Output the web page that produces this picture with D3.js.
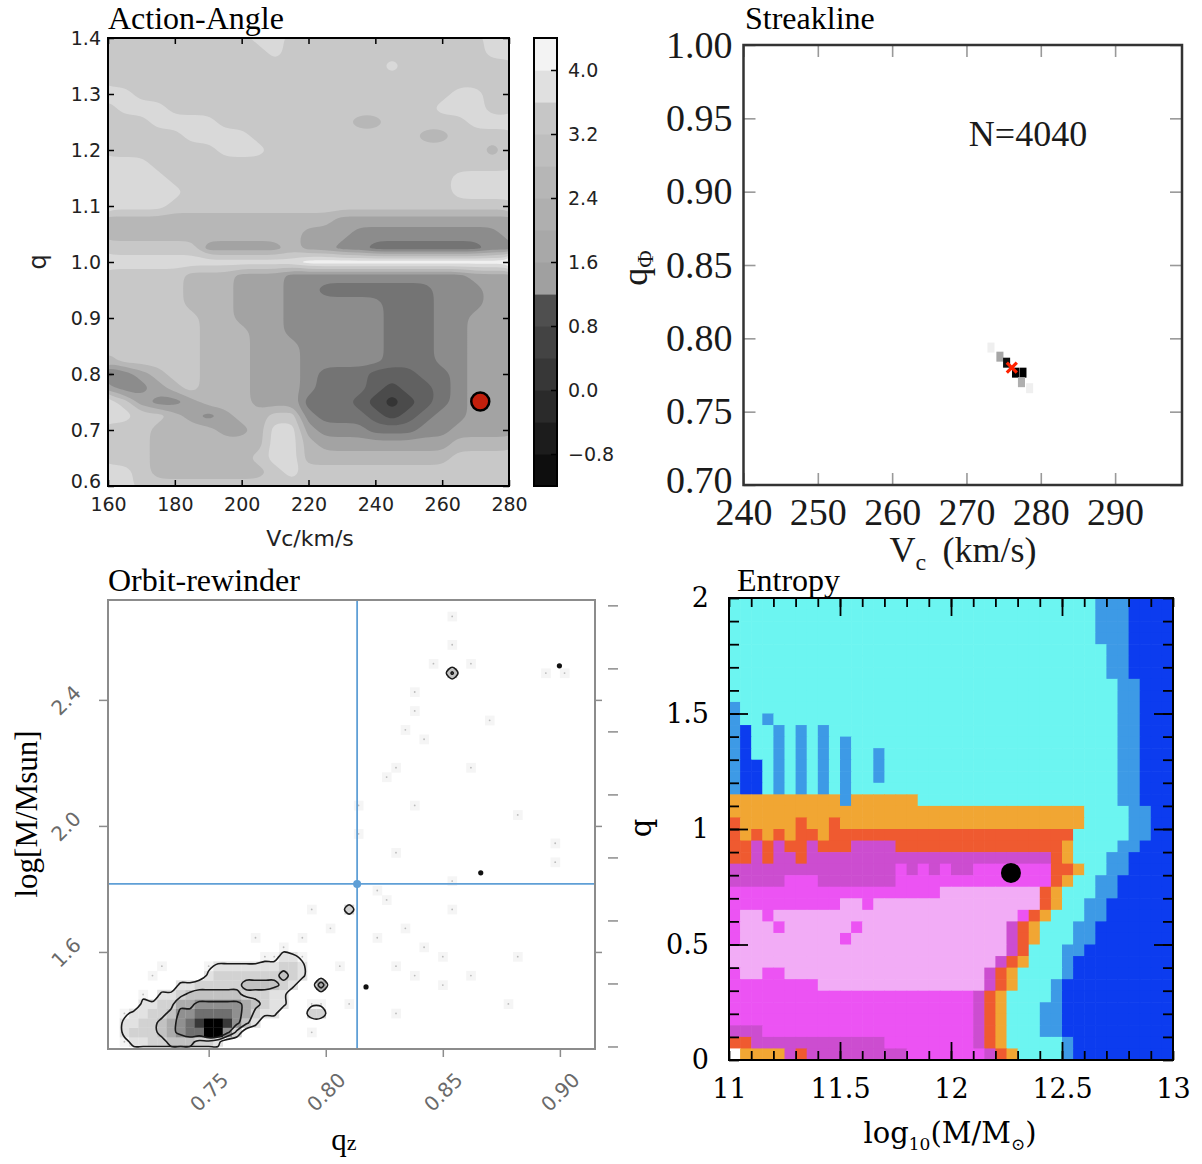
<!DOCTYPE html>
<html><head><meta charset="utf-8">
<script src="https://cdn.jsdelivr.net/npm/d3@7/dist/d3.min.js"></script>
<style>html,body{margin:0;padding:0;background:#fff;} svg{display:block;}</style>
</head><body>
<svg id="fig" width="1202" height="1164" xmlns="http://www.w3.org/2000/svg"></svg>
<script>
// ======================= DATA =======================
// ---- Panel 1: Action-Angle (grey contour map, level index per grid node) ----
const aaVcGrid = [160,165,170,175,180,185,190,195,200,205,210,215,220,225,230,235,240,245,250,255,260,265,270,275,280];
const aaQGrid = [1.400,1.375,1.350,1.325,1.300,1.275,1.250,1.225,1.200,1.175,1.150,1.125,1.100,1.075,1.050,1.025,1.000,0.975,0.950,0.925,0.900,0.875,0.850,0.825,0.800,0.775,0.750,0.725,0.700,0.675,0.650,0.625,0.600];
const aaLevelRows = [
"2222222221122222222222211",
"2222222222122222222222211",
"2222222222222222212222222",
"2222222222222222222222222",
"1122222222222222222221122",
"2111222222222222222211122",
"2221111222222223322222111",
"2222211112222222222332222",
"2222222111222222222222232",
"1112222222222222222222222",
"1111222222222222222221111",
"1111122222222222222221111",
"1111222222222222222222222",
"3333333333333344444444444",
"3333333333334445555555554",
"2222224444434455666666655",
"1111111111110000000000000",
"2222233344455555555555444",
"2222233344455666666655544",
"2222233344455555566655544",
"2222223344455555566655444",
"2222223334455555566655444",
"2222223334445555566655444",
"3222223334445555566655444",
"6543223334445666777665444",
"4554323334445666787765444",
"1245543334446667898765444",
"1122345433225666787655444",
"2223333443114555666554444",
"2223333333113444444443333",
"2223333332113333333332222",
"1123333333212222222222222",
"1122222222222222222222222"
];
const aaLevelGrays = ["#f0f0f0","#d9d9d9","#c8c8c8","#b7b7b7","#a3a3a3","#8c8c8c","#747474","#616161","#4b4b4b","#353535"];
const aaXTicks = [160,180,200,220,240,260,280];
const aaYTicks = [0.6,0.7,0.8,0.9,1.0,1.1,1.2,1.3,1.4];
const aaBest = [271.4, 0.751];
const cbEdges = [-1.2,-0.8,-0.4,0.0,0.4,0.8,1.2,1.6,2.0,2.4,2.8,3.2,3.6,4.0,4.4];
const cbGrays = ["#0e0e0e","#1c1c1c","#2a2a2a","#373737","#434343","#4f4f4f","#a0a0a0","#a8a8a8","#afafaf","#b6b6b6","#bebebe","#c6c6c6","#e0e0e0","#f3f3f3"];
const cbTicks = [-0.8,0.0,0.8,1.6,2.4,3.2,4.0];

// ---- Panel 2: Streakline ----
const slXTicks = [240,250,260,270,280,290];
const slYTicks = [0.70,0.75,0.80,0.85,0.90,0.95,1.00];
const slCellVc = [273.3,274.5,275.4,276.6,277.6,277.4,278.5];
const slCellQ = [0.7937,0.7875,0.7834,0.7766,0.7766,0.7701,0.7660];
const slCellDensity = [0.12,0.45,0.95,1.0,1.0,0.42,0.12];
const slBest = [276.1, 0.780];
const slNote = "N=4040";

// ---- Panel 3: Orbit-rewinder ----
const orQzTicks = [0.75,0.80,0.85,0.90];
const orLogMTicks = [1.6,2.0,2.4];
const orOuterTicks = [1.3,1.5,1.7,1.9,2.1,2.3,2.5,2.7];
// dense cluster, rows from logM 1.60-1.63 (top) down to 1.30-1.33, columns from qz 0.712 step 0.004
const orClusterRows = [
"000000000000000000000000",
"000000000000000112210000",
"000000000122222223320000",
"000000000233333334320000",
"000000223333344443200500",
"000022344444433322000000",
"002233556666654322001100",
"122334667777653220003300",
"223345678998642000000000",
"233345677996300000000000",
"122334443320000000000000"
];
const orScatterQz   = [0.8538,0.8534,0.8453,0.8632,0.8947,0.9019,0.8372,0.8381,0.8330,0.8423,0.8709,0.8317,0.8257,0.8623,0.8160,0.8372,0.8832,0.8968,0.8977,0.8147,0.8317,0.8551,0.8206,0.8274,0.8330,0.8232,0.8432,0.8509,0.8296,0.8368,0.8500,0.8615,0.8104,0.8040,0.7891,0.7806,0.7691,0.7296,0.7211,0.8296,0.7934,0.8019,0.7955,0.8530,0.8828,0.8764,0.7266,0.7219,0.7372,0.8543,0.8096];
const orScatterLogM = [2.654,2.565,2.508,2.514,2.495,2.470,2.419,2.368,2.314,2.273,2.337,2.194,2.162,2.197,2.067,2.051,2.025,1.936,1.879,1.987,1.908,1.829,1.781,1.756,1.676,1.644,1.622,1.581,1.568,1.527,1.495,1.527,1.448,1.559,1.638,1.606,1.654,1.549,1.448,1.416,1.352,1.670,1.749,1.749,1.575,1.448,1.533,1.454,1.479,2.479,1.740];
const orScatterVal  = [1,1,1,1,1,1,1,1,1,1,1,1,1,1,1,1,1,1,1,1,1,1,1,1,1,1,1,1,1,1,1,1,1,1,1,1,1,1,1,1,1,1,1,1,1,1,1,1,1,4,3];
const orSpecksQz   = [0.8998,0.8662,0.8172];
const orSpecksLogM = [2.508,1.851,1.489];
const orTruth = [0.8134, 1.816];

// ---- Panel 4: Entropy (run-length rows, top q=2 -> bottom q=0, 40 cells of 0.05) ----
const enXTicks = [11,11.5,12,12.5,13];
const enYTicks = [0,0.5,1,1.5,2];
const enRowsRLE = [
"C33 B3 D4","C33 B3 D4","C33 B3 D4","C33 B3 D4",
"C34 B2 D4","C34 B2 D4","C34 B2 D4",
"C35 B2 D3","C35 B2 D3",
"B1 C34 B2 D3",
"B1 C2 B1 C31 B2 D3",
"B1 D1 C2 B1 C1 B1 C1 B1 C26 B2 D3",
"B1 D1 C2 B1 C1 B1 C1 B1 C1 B1 C24 B2 D3",
"B1 D1 C2 B1 C1 B1 C1 B1 C1 B1 C2 B1 C21 B2 D3",
"B1 D2 C1 B1 C1 B1 C1 B1 C1 B1 C2 B1 C21 B2 D3",
"B1 D2 C1 B1 C1 B1 C1 B1 C1 B1 C2 B1 C21 B2 D3",
"B1 D2 C1 B1 C1 B1 C1 B1 C1 B1 C24 B2 D3",
"O10 B1 O6 C18 B2 D3",
"O32 C4 B2 D2",
"R1 O5 R1 O2 R1 O22 C4 B2 D2",
"R1 O1 R1 O1 R1 O1 R2 O1 R22 C5 B2 D2",
"R2 P1 R1 P1 R2 P1 R3 P4 R15 O1 C4 B2 D3",
"R2 P1 R1 P2 R1 P22 R1 O1 C3 B2 D4",
"P15 M1 P1 M1 P1 M1 P2 M7 R2 O1 C2 B2 D4",
"P5 M3 P7 M14 R1 O1 C2 B2 D5",
"M19 L9 R1 O1 C3 B2 D5",
"M10 L2 M1 L15 R1 O1 C2 B2 D6",
"M1 L2 M1 L22 M1 R1 O1 C3 B2 D6",
"M1 L3 M1 L6 M1 L13 P1 R1 O1 C3 B2 D7",
"M1 L9 M1 L14 P1 R1 O1 C3 B2 D7",
"L25 P1 R1 C3 B2 D8",
"L24 P1 R1 O1 C3 B1 D9",
"M1 L2 M2 L18 P1 R1 O1 C4 B1 D9",
"M8 L15 P1 R1 O1 C3 B1 D10",
"M22 P1 R1 O1 C4 B1 D10",
"M22 P1 R1 O1 C3 B2 D10",
"M22 P1 R1 O1 C3 B2 D10",
"P3 M19 P1 R1 O1 C3 B2 D10",
"R2 P12 M8 P1 R1 O1 C5 B1 D9",
"W1 O4 P1 R1 P9 M7 P1 R1 O1 C4 B1 D9"
];
const enPalette = {C:"#6cf5f1",B:"#3d9ae6",D:"#0c3cef",O:"#f1a633",R:"#ef5a30",P:"#cc4dd0",M:"#ec53f3",L:"#f2acf6",W:"#ffffff"};
const enBest = [12.27, 0.81];

// ======================= DRAWING =======================
const svg = d3.select("#fig");
const defs = svg.append("defs");
const SERIF = "'Liberation Serif','Times New Roman',Times,serif";
const SANS = "'DejaVu Sans',Verdana,sans-serif";
const DSERIF = "'DejaVu Serif',serif";

function styleAxis(g, o) {
  g.select(".domain").remove();
  g.attr("font-family", null).attr("font-size", null);
  g.selectAll(".tick line").attr("stroke", o.tickColor || "#000").attr("stroke-width", o.tickWidth || 1.5);
  g.selectAll(".tick text").attr("font-family", o.font).attr("font-size", o.size).attr("fill", o.color || "#000");
  return g;
}
function contourPath(geom, fx, fy, curve) {
  const line = d3.line().x(p => fx(p[0])).y(p => fy(p[1])).curve(curve || d3.curveCatmullRomClosed.alpha(0.5));
  let d = "";
  geom.coordinates.forEach(poly => poly.forEach(ring => { d += line(ring.slice(0, -1)); }));
  return d;
}
function clip(id, x, y, w, h) {
  defs.append("clipPath").attr("id", id).append("rect").attr("x", x).attr("y", y).attr("width", w).attr("height", h);
  return "url(#" + id + ")";
}

// ---------- Panel 1 ----------
{
  const ax = d3.scaleLinear([160, 280], [108, 509]);
  const ay = d3.scaleLinear([0.6, 1.4], [486, 38]);
  const g = svg.append("g");
  const n = aaVcGrid.length, m = aaQGrid.length;
  const vals = [];
  aaLevelRows.forEach(row => { for (let i = 0; i < n; i++) vals.push(+(row[i] || 2)); });
  const dV = aaVcGrid[1] - aaVcGrid[0], dQ = aaQGrid[1] - aaQGrid[0];
  const fx = gx => ax(aaVcGrid[0] + (gx - 0.5) * dV);
  const fy = gy => ay(aaQGrid[0] + (gy - 0.5) * dQ);
  const thr = aaLevelGrays.slice(1).map((_, k) => k + 0.5);
  const cons = d3.contours().size([n, m]).thresholds(thr)(vals);
  const map = g.append("g").attr("clip-path", clip("clipA", 108, 38, 401, 448));
  map.append("rect").attr("x", 100).attr("y", 30).attr("width", 420).attr("height", 470).attr("fill", aaLevelGrays[0]);
  map.selectAll("path").data(cons).join("path")
    .attr("d", c => contourPath(c, fx, fy, d3.curveBasisClosed))
    .attr("fill", c => aaLevelGrays[Math.round(c.value + 0.5)])
    .attr("fill-rule", "evenodd");
  g.append("circle").attr("cx", ax(aaBest[0])).attr("cy", ay(aaBest[1])).attr("r", 9)
    .attr("fill", "#c21f0c").attr("stroke", "#000").attr("stroke-width", 2.5);
  g.append("rect").attr("x", 108).attr("y", 38).attr("width", 401).attr("height", 448)
    .attr("fill", "none").attr("stroke", "#000").attr("stroke-width", 2);
  const o = {font: SANS, size: 19, color: "#222"};
  styleAxis(g.append("g").attr("transform", "translate(0,486)")
    .call(d3.axisBottom(ax).tickValues(aaXTicks).tickSize(-6).tickPadding(12).tickFormat(d3.format("d"))), o);
  styleAxis(g.append("g").attr("transform", "translate(0,38)")
    .call(d3.axisTop(ax).tickValues(aaXTicks).tickSize(-6).tickFormat("")), o);
  const yl = styleAxis(g.append("g").attr("transform", "translate(108,0)")
    .call(d3.axisLeft(ay).tickValues(aaYTicks).tickSize(-6).tickPadding(7).tickFormat(d3.format(".1f"))), o);
  yl.selectAll(".tick text").attr("dy", d => d === 0.6 ? "0.1em" : "0.32em");
  styleAxis(g.append("g").attr("transform", "translate(509,0)")
    .call(d3.axisRight(ay).tickValues(aaYTicks).tickSize(-6).tickFormat("")), o);
  g.append("text").attr("x", 108).attr("y", 29).attr("font-family", SERIF).attr("font-size", 32).text("Action-Angle");
  g.append("text").attr("x", 310).attr("y", 546).attr("text-anchor", "middle").attr("font-family", SANS).attr("font-size", 22).attr("fill", "#222").text("Vc/km/s");
  g.append("text").attr("transform", "translate(46,262) rotate(-90)").attr("text-anchor", "middle").attr("font-family", SANS).attr("font-size", 24).attr("fill", "#222").text("q");

  // colorbar
  const cb = d3.scaleLinear([-1.2, 4.4], [486, 38]);
  g.selectAll("rect.cb").data(cbGrays).join("rect").attr("class", "cb")
    .attr("x", 534).attr("width", 23)
    .attr("y", (d, i) => cb(cbEdges[i + 1]))
    .attr("height", (d, i) => cb(cbEdges[i]) - cb(cbEdges[i + 1]) + 0.6)
    .attr("fill", d => d);
  g.append("rect").attr("x", 534).attr("y", 38).attr("width", 23).attr("height", 448)
    .attr("fill", "none").attr("stroke", "#000").attr("stroke-width", 2);
  styleAxis(g.append("g").attr("transform", "translate(557,0)")
    .call(d3.axisRight(cb).tickValues(cbTicks).tickSize(-6).tickPadding(11).tickFormat(d3.format(".1f"))), o);
}

// ---------- Panel 2 ----------
{
  const sx = d3.scaleLinear([240, 299], [743.5, 1182]);
  const sy = d3.scaleLinear([0.70, 1.00], [485, 45]);
  const g = svg.append("g");
  const cw = sx(240.95) - sx(240), ch = sy(0.70) - sy(0.7068);
  g.selectAll("rect.cell").data(slCellVc).join("rect").attr("class", "cell")
    .attr("x", (d, i) => sx(d) - cw / 2).attr("y", (d, i) => sy(slCellQ[i]) - ch / 2)
    .attr("width", cw).attr("height", ch)
    .attr("fill", (d, i) => d3.interpolateGreys(slCellDensity[i]));
  const bx = sx(slBest[0]), by = sy(slBest[1]);
  g.append("path").attr("d", `M${bx-5},${by-5}L${bx+5},${by+5}M${bx-5},${by+5}L${bx+5},${by-5}`)
    .attr("stroke", "#ff2200").attr("stroke-width", 3.2);
  const o = {font: SERIF, size: 38, color: "#1a1a1a", tickColor: "#999", tickWidth: 1.6};
  styleAxis(g.append("g").attr("transform", "translate(0,485)")
    .call(d3.axisBottom(sx).tickValues(slXTicks).tickSize(-12).tickPadding(13).tickFormat(d3.format("d"))), o);
  styleAxis(g.append("g").attr("transform", "translate(0,45)")
    .call(d3.axisTop(sx).tickValues(slXTicks).tickSize(-12).tickFormat("")), o);
  const ly = styleAxis(g.append("g").attr("transform", "translate(743.5,0)")
    .call(d3.axisLeft(sy).tickValues(slYTicks).tickSize(-12).tickPadding(11).tickFormat(d3.format(".2f"))), o);
  ly.selectAll(".tick text").attr("dy", d => d === 0.70 ? "0.2em" : "0.32em");
  styleAxis(g.append("g").attr("transform", "translate(1182,0)")
    .call(d3.axisRight(sy).tickValues(slYTicks).tickSize(-12).tickFormat("")), o);
  g.append("rect").attr("x", 743.5).attr("y", 45).attr("width", 438.5).attr("height", 440)
    .attr("fill", "none").attr("stroke", "#333").attr("stroke-width", 2.5);
  g.append("text").attr("x", 745).attr("y", 29).attr("font-family", SERIF).attr("font-size", 32).text("Streakline");
  g.append("text").attr("x", 1028).attr("y", 146).attr("text-anchor", "middle").attr("font-family", SERIF).attr("font-size", 36).attr("fill", "#1a1a1a").text(slNote);
  const xl = g.append("text").attr("x", 963).attr("y", 562).attr("text-anchor", "middle").attr("font-family", SERIF).attr("font-size", 36).attr("fill", "#1a1a1a");
  xl.append("tspan").text("V");
  xl.append("tspan").attr("font-size", 24).attr("dy", 8).text("c");
  xl.append("tspan").attr("dy", -8).text("\u2009 (km/s)");
  const yl = g.append("text").attr("transform", "translate(647,268) rotate(-90)").attr("text-anchor", "middle").attr("font-family", SERIF).attr("font-size", 36).attr("fill", "#1a1a1a");
  yl.append("tspan").text("q");
  yl.append("tspan").attr("font-size", 24).attr("dy", 6).text("\u03A6");
}

// ---------- Panel 3 ----------
{
  const ox = d3.scaleLinear([0.707, 0.915], [108, 595]);
  const oy = d3.scaleLinear([1.292, 2.717], [1049, 600]);
  const g = svg.append("g");
  const q0 = 0.708, dq = 0.004, l0 = 1.30, dl = 0.03, nC = 53, nR = 48;
  const grid = new Array(nC * nR).fill(0);               // row index counted from the bottom
  const set = (c, r, v) => { if (c >= 0 && c < nC && r >= 0 && r < nR) grid[r * nC + c] = Math.max(grid[r * nC + c], v); };
  const cr = orClusterRows.length;
  orClusterRows.forEach((row, k) => { const r = cr - 1 - k; for (let i = 0; i < row.length; i++) set(i + 1, r, +row[i]); });
  orScatterQz.forEach((qz, i) => set(Math.floor((qz - q0) / dq), Math.floor((orScatterLogM[i] - l0) / dl), orScatterVal[i]));
  const plot = g.append("g").attr("clip-path", clip("clipC", 108, 600, 487, 449));
  const gray = ["#ffffff","#f5f5f5","#e2e2e2","#d2d2d2","#c2c2c2","#ababab","#909090","#6f6f6f","#383838","#000000"];
  const cells = [];
  for (let r = 0; r < nR; r++) for (let c = 0; c < nC; c++) if (grid[r * nC + c] > 0) cells.push([c, r, grid[r * nC + c]]);
  const cw = ox(q0 + dq) - ox(q0), chh = oy(l0) - oy(l0 + dl);
  plot.selectAll("rect.h").data(cells).join("rect").attr("class", "h")
    .attr("x", d => ox(q0 + dq * d[0])).attr("y", d => oy(l0 + dl * (d[1] + 1)))
    .attr("width", cw + 0.3).attr("height", chh + 0.3).attr("fill", d => gray[d[2]]);
  plot.selectAll("circle.dot").data(cells.filter(d => d[2] === 1)).join("circle").attr("class", "dot")
    .attr("cx", d => ox(q0 + dq * (d[0] + 0.5))).attr("cy", d => oy(l0 + dl * (d[1] + 0.5))).attr("r", 0.9)
    .attr("fill", "#bbb");
  // contour lines from the same histogram
  const flat = [];
  for (let gy = 0; gy < nR; gy++) for (let c = 0; c < nC; c++) flat.push(grid[(nR - 1 - gy) * nC + c]);
  const cons = d3.contours().size([nC, nR]).thresholds([1.5, 3.5, 5.5])(flat);
  const fx = gx => ox(q0 + dq * gx), fy = gy => oy(l0 + dl * (nR - gy));
  plot.selectAll("path.c").data(cons).join("path").attr("class", "c")
    .attr("d", c => contourPath(c, fx, fy)).attr("fill", "none").attr("stroke", "#1a1a1a").attr("stroke-width", 1.6);
  plot.selectAll("circle.sp").data(orSpecksQz).join("circle").attr("class", "sp")
    .attr("cx", d => ox(d)).attr("cy", (d, i) => oy(orSpecksLogM[i])).attr("r", 2.6).attr("fill", "#111");
  // truth crosshair
  const tx = ox(orTruth[0]), ty = oy(orTruth[1]);
  plot.append("line").attr("x1", tx).attr("x2", tx).attr("y1", 600).attr("y2", 1049).attr("stroke", "#5f9fd6").attr("stroke-width", 1.8);
  plot.append("line").attr("x1", 108).attr("x2", 595).attr("y1", ty).attr("y2", ty).attr("stroke", "#5f9fd6").attr("stroke-width", 1.8);
  g.append("circle").attr("cx", tx).attr("cy", ty).attr("r", 4).attr("fill", "#5f9fd6");
  g.append("rect").attr("x", 108).attr("y", 600).attr("width", 487).attr("height", 449)
    .attr("fill", "none").attr("stroke", "#8c8c8c").attr("stroke-width", 2);
  const o = {font: SANS, size: 20, color: "#6a6a6a", tickColor: "#8c8c8c", tickWidth: 1.5};
  const bx = styleAxis(g.append("g").attr("transform", "translate(0,1049)")
    .call(d3.axisBottom(ox).tickValues(orQzTicks).tickSize(8).tickFormat(d3.format(".2f"))), o);
  bx.selectAll(".tick text").attr("y", null).attr("dy", "0.35em").attr("text-anchor", "middle").attr("transform", "translate(0,43) rotate(-45)");
  const ly = styleAxis(g.append("g").attr("transform", "translate(108,0)")
    .call(d3.axisLeft(oy).tickValues(orLogMTicks).tickSize(9).tickFormat(d3.format(".1f"))), o);
  ly.selectAll(".tick text").attr("x", null).attr("dy", "0.35em").attr("text-anchor", "middle").attr("transform", "translate(-42,0) rotate(-45)");
  styleAxis(g.append("g").attr("transform", "translate(595,0)")
    .call(d3.axisRight(oy).tickValues(orLogMTicks).tickSize(7).tickFormat("")), o);
  styleAxis(g.append("g").attr("transform", "translate(608,0)")
    .call(d3.axisRight(oy).tickValues(orOuterTicks).tickSize(10).tickFormat("")), o);
  g.append("text").attr("x", 108).attr("y", 591).attr("font-family", SERIF).attr("font-size", 32).text("Orbit-rewinder");
  g.append("text").attr("transform", "translate(37,814) rotate(-90)").attr("text-anchor", "middle").attr("font-family", SERIF).attr("font-size", 31).text("log[M/Msun]");
  const xl = g.append("text").attr("x", 344).attr("y", 1150).attr("text-anchor", "middle").attr("font-family", SERIF).attr("font-size", 31);
  xl.append("tspan").text("q");
  xl.append("tspan").attr("font-size", 22).text("z");
}

// ---------- Panel 4 ----------
{
  const ex = d3.scaleLinear([11, 13], [729, 1173]);
  const ey = d3.scaleLinear([0, 2], [1060, 598]);
  const g = svg.append("g");
  const rows = enRowsRLE.map(s => {
    let out = "";
    s.split(" ").forEach(tok => { out += tok[0].repeat(+tok.slice(1)); });
    return out;
  });
  const nX = 40, nY = rows.length, dx = 2 / nX, dy = 2 / nY;
  const cells = [];
  rows.forEach((row, r) => { for (let c = 0; c < row.length; c++) cells.push([c, r, row[c]]); });
  const cw = ex(11 + dx) - ex(11), ch = ey(0) - ey(dy);
  g.selectAll("rect.e").data(cells).join("rect").attr("class", "e")
    .attr("x", d => ex(11 + dx * d[0])).attr("y", d => ey(2 - dy * d[1]))
    .attr("width", cw + 0.6).attr("height", ch + 0.6)
    .attr("fill", d => enPalette[d[2]] || "#fff");
  g.append("circle").attr("cx", ex(enBest[0])).attr("cy", ey(enBest[1])).attr("r", 10).attr("fill", "#000");
  const o = {font: DSERIF, size: 27, color: "#000", tickColor: "#000", tickWidth: 1.8};
  const minorX = ex.ticks(20), minorY = ey.ticks(20);
  const majX = [11.5, 12, 12.5], majY = [0.5, 1, 1.5];
  styleAxis(g.append("g").attr("transform", "translate(0,1060)").call(d3.axisBottom(ex).tickValues(minorX).tickSize(-9).tickFormat("")), o);
  styleAxis(g.append("g").attr("transform", "translate(0,1060)").call(d3.axisBottom(ex).tickValues(majX).tickSize(-18).tickFormat("")), o);
  styleAxis(g.append("g").attr("transform", "translate(0,598)").call(d3.axisTop(ex).tickValues(minorX).tickSize(-9).tickFormat("")), o);
  styleAxis(g.append("g").attr("transform", "translate(0,598)").call(d3.axisTop(ex).tickValues(majX).tickSize(-18).tickFormat("")), o);
  styleAxis(g.append("g").attr("transform", "translate(729,0)").call(d3.axisLeft(ey).tickValues(minorY).tickSize(-10).tickFormat("")), o);
  styleAxis(g.append("g").attr("transform", "translate(729,0)").call(d3.axisLeft(ey).tickValues(majY).tickSize(-19).tickFormat("")), o);
  styleAxis(g.append("g").attr("transform", "translate(1173,0)").call(d3.axisRight(ey).tickValues(minorY).tickSize(-10).tickFormat("")), o);
  styleAxis(g.append("g").attr("transform", "translate(1173,0)").call(d3.axisRight(ey).tickValues(majY).tickSize(-19).tickFormat("")), o);
  const lx = styleAxis(g.append("g").attr("transform", "translate(0,1060)").call(d3.axisBottom(ex).tickValues(enXTicks).tickSize(0).tickPadding(19).tickFormat(d => String(d))), o);
  lx.selectAll(".tick line").remove();
  const lyy = styleAxis(g.append("g").attr("transform", "translate(729,0)").call(d3.axisLeft(ey).tickValues(enYTicks).tickSize(0).tickPadding(20).tickFormat(d => String(d))), o);
  lyy.selectAll(".tick line").remove();
  g.append("rect").attr("x", 729).attr("y", 598).attr("width", 444).attr("height", 462)
    .attr("fill", "none").attr("stroke", "#000").attr("stroke-width", 2);
  g.append("text").attr("x", 737).attr("y", 591).attr("font-family", SERIF).attr("font-size", 32).text("Entropy");
  const xl = g.append("text").attr("x", 950).attr("y", 1143).attr("text-anchor", "middle").attr("font-family", DSERIF).attr("font-size", 29);
  xl.append("tspan").text("log");
  xl.append("tspan").attr("font-size", 17).attr("dy", 7).text("10");
  xl.append("tspan").attr("dy", -7).text("(M/M");
  xl.append("tspan").attr("font-size", 17).attr("dy", 7).text("\u2299");
  xl.append("tspan").attr("dy", -7).text(")");
  g.append("text").attr("transform", "translate(651,828) rotate(-90)").attr("text-anchor", "middle").attr("font-family", DSERIF).attr("font-size", 29).text("q");
}
</script>
</body></html>
